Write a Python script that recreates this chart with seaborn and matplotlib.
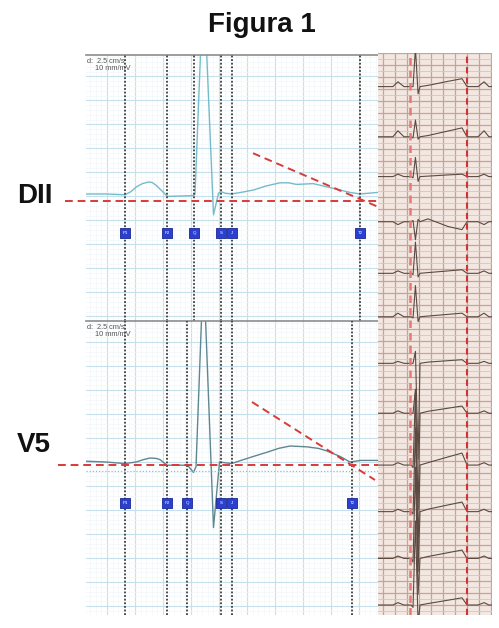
import numpy as np
import pandas as pd
import matplotlib
matplotlib.use("Agg")
import matplotlib.pyplot as plt
import seaborn as sns

sns.set_theme(style="white")
plt.rcParams["font.family"] = ["Liberation Sans", "DejaVu Sans"]

# ---------------- data ----------------
title = "Figura 1"
lead_labels = ["DII", "V5"]
speed_text = "d:  2.5 cm/s\n    10 mm/mV"

# DII enlarged beat (time ms, amplitude mV)
dii_t = [0, 40, 78, 90, 101, 113, 125, 132, 140, 150, 163, 190, 215, 218, 235, 255, 265, 270, 278, 291,
         310, 335, 360, 388, 405, 421, 440, 454, 468, 488, 508, 528, 548, 566, 584]
dii_mv = [0.0, 0.0, -0.01, 0.03, 0.09, 0.13, 0.15, 0.145, 0.11, 0.05, -0.03, -0.025, -0.02, 0.0, 2.7, -0.26, 0.01, 0.03, 0.01, 0.0,
          0.02, 0.05, 0.10, 0.14, 0.14, 0.12, 0.125, 0.13, 0.11, 0.08, 0.05, 0.02, 0.0, 0.01, 0.02]

# V5 enlarged beat
v5_t = [0, 40, 78, 100, 115, 128, 140, 148, 162, 185, 203, 215, 220, 235, 255, 267, 291,
        310, 335, 361, 385, 408, 441, 465, 481, 508, 528, 550, 584]
v5_mv = [0.01, 0.0, -0.02, 0.0, 0.03, 0.05, 0.045, 0.03, -0.04, -0.04, -0.04, -0.13, -0.06, 2.45, -0.82, 0.0, -0.02,
         0.02, 0.07, 0.12, 0.17, 0.20, 0.19, 0.17, 0.14, 0.07, 0.0, 0.02, 0.02]

# caliper markers (ms)
marker_labels = ["P1", "P2", "Q", "S", "J", "T2"]
dii_markers = [78, 162, 216, 270, 292, 548]
v5_markers = [78, 162, 202, 270, 292, 532]
dii_marker_level = -0.49
v5_marker_level = -0.51

# red reference lines
dii_baseline_ref = -0.09
dii_slope_t = [334, 584]
dii_slope_mv = [0.51, -0.16]
v5_baseline_ref = -0.04
v5_slope_t = [332, 578]
v5_slope_mv = [0.75, -0.225]
v5_dotted_ref = -0.11

# 12-lead rhythm strip (mm on paper, 10 mm/mV)
strip_names = ["I", "II", "III", "aVR", "aVL", "aVF", "V1", "V2", "V3", "V4", "V5", "V6"]
strip_offset_mm = [14.0, 34.9, 51.5, 70.3, 91.8, 109.9, 129.3, 150.1, 171.7, 191.1, 210.6, 230.0]
strip_P = [2.0, 2.5, 1.0, -1.2, 1.0, 1.5, 0.8, 1.0, 1.0, 1.0, 1.0, 1.0]
strip_Q = [0.0, -0.5, -0.5, 0.5, -0.5, -0.5, 0.0, 0.0, -1.0, -1.0, -1.5, -1.0]
strip_R = [16.0, 7.0, 8.0, -7.5, 13.0, 13.0, 5.0, 10.0, 30.0, 35.0, 38.0, 35.0]
strip_S = [-3.0, -1.0, -2.0, 1.0, -1.5, -2.0, -40.0, -40.0, -35.0, -25.0, -15.0, -8.0]
strip_ST = [0.5, 0.5, 0.2, 1.2, 0.3, 0.3, 0.5, 0.8, 1.0, 1.0, 0.8, 0.6]
strip_Tmid = [2.2, 2.4, 0.7, -2.0, 1.0, 1.0, 1.1, 2.1, 3.4, 2.8, 2.4, 2.0]
strip_T = [3.3, 3.7, 1.0, -3.3, 1.5, 1.5, 1.5, 3.0, 5.0, 4.0, 3.5, 3.0]
strip_x_mm = [0, 6.2, 8.3, 10.8, 13.8, 14.6, 15.6, 16.7, 17.5, 20.8, 29.2, 35.0, 37.1, 41.7, 44.2, 46.2, 47.5]
cal_lines_mm = [13.3, 37.1]

# ---------------- figure ----------------
W, H = 499, 628
fig = plt.figure(figsize=(W / 100, H / 100), dpi=100)
fig.patch.set_facecolor("white")


def fa(left, top, right, bottom):
    return [left / W, 1 - bottom / H, (right - left) / W, (bottom - top) / H]


ax_top = fig.add_axes(fa(86, 55, 378, 321))
ax_bot = fig.add_axes(fa(86, 321, 378, 615))
ax_rs = fig.add_axes(fa(378, 53, 492, 615))

panels = [
    (ax_top, dii_t, dii_mv, (-1.5875, 1.7375), dii_markers, dii_marker_level, "#74bccb",
     dii_baseline_ref, -42, dii_slope_t, dii_slope_mv, 1.47),
    (ax_bot, v5_t, v5_mv, (-1.9125, 1.7625), v5_markers, v5_marker_level, "#5f8791",
     v5_baseline_ref, -56, v5_slope_t, v5_slope_mv, 1.50),
]

for (ax, t, mv, ylim, mk, mk_lvl, tcol, bref, bstart, st, smv, ygrid0) in panels:
    ax.set_facecolor("white")
    df = pd.DataFrame({"t": t, "mv": mv})
    sns.lineplot(data=df, x="t", y="mv", ax=ax, color=tcol, lw=1.0, sort=False, estimator=None)

    # caliper verticals
    for m in mk:
        ax.axvline(m, color="#3d3d3d", lw=1.3, ls=(0, (1, 1)), zorder=3)
    ax.scatter(mk, [mk_lvl] * len(mk), marker="s", s=58, color="#2b3fd0",
               edgecolor="#1a2790", linewidth=0.6, zorder=5)
    for m, lab in zip(mk, marker_labels):
        ax.text(m, mk_lvl, lab, color="white", fontsize=3.2, ha="center", va="center", zorder=6)

    # red reference lines
    ax.plot([bstart, 584], [bref, bref], color="#d93a3a", lw=1.4, ls=(0, (4, 2.5)),
            clip_on=False, zorder=4)
    ax.plot(st, smv, color="#d93a3a", lw=1.4, ls=(0, (4, 2.5)), clip_on=False, zorder=4)

    ax.text(0.004, 0.99, speed_text, transform=ax.transAxes, ha="left", va="top",
            fontsize=5.3, color="#555555", linespacing=1.0)
    ax.set_xlabel("")
    ax.set_ylabel("")

    # ECG grid and limits (set last so nothing rescales them)
    ax.set_xticks(np.arange(42, 584, 56))
    ax.set_xticks(np.arange(42 - 56, 584, 11.2), minor=True)
    ax.set_yticks(np.arange(ygrid0, ylim[0], -0.3))
    ax.set_yticks(np.arange(ygrid0 + 0.3, ylim[0], -0.06), minor=True)
    ax.grid(True, which="major", color="#c6e0ec", lw=0.8)
    ax.grid(True, which="minor", color="#f1f7fa", lw=0.5)
    ax.tick_params(which="both", length=0, labelbottom=False, labelleft=False)
    for s in ["left", "right", "bottom"]:
        ax.spines[s].set_visible(False)
    ax.spines["top"].set_color("#8c8c8c")
    ax.spines["top"].set_linewidth(1.2)
    ax.set_axisbelow(True)
    ax.set_xlim(0, 584)
    ax.set_ylim(*ylim)

ax_bot.axhline(v5_dotted_ref, color="#7cc6d4", lw=0.9, ls=(0, (1, 1.5)), zorder=2)

# ---------------- rhythm strip ----------------
paper_h = 562 / 2.4
paper_w = 114 / 2.4
ax_rs.set_facecolor("#f3e8e1")

rows = []
for i, name in enumerate(strip_names):
    amps = [0, 0, strip_P[i], 0, 0, strip_Q[i], strip_R[i], strip_S[i], 0,
            strip_ST[i], strip_Tmid[i], strip_T[i], 0, 0, strip_P[i], 0, 0]
    for x, a in zip(strip_x_mm, amps):
        rows.append({"lead": name, "x": x, "y": strip_offset_mm[i] - a})
rs = pd.DataFrame(rows)
sns.lineplot(data=rs, x="x", y="y", units="lead", estimator=None, sort=False,
             color="#5a4a42", lw=0.8, ax=ax_rs)
ax_rs.axvline(cal_lines_mm[0], color="#e27a7a", lw=1.8, ls=(0, (3, 2)), zorder=4)
ax_rs.axvline(cal_lines_mm[1], color="#cc3535", lw=1.5, ls=(0, (3, 2)), zorder=4)
ax_rs.set_xlabel("")
ax_rs.set_ylabel("")
ax_rs.set_xticks(np.arange(2.1, paper_w, 5))
ax_rs.set_yticks(np.arange(0, paper_h, 5))
ax_rs.set_yticks(np.arange(2.5, paper_h, 5), minor=True)
ax_rs.grid(True, which="major", color="#c8a392", lw=0.9)
ax_rs.grid(True, which="minor", axis="y", color="#dcc3b6", lw=0.6)
ax_rs.tick_params(which="both", length=0, labelbottom=False, labelleft=False)
for s in ax_rs.spines.values():
    s.set_visible(False)
ax_rs.set_axisbelow(True)
ax_rs.set_xlim(0, paper_w)
ax_rs.set_ylim(paper_h, 0)

# ---------------- texts ----------------
fig.text(262 / W, 1 - 25 / H, title, ha="center", va="center", fontsize=20, fontweight="bold", color="#111111")
fig.text(17 / W, 1 - 196 / H, lead_labels[0], ha="left", va="center", fontsize=20, fontweight="bold", color="#111111")
fig.text(17 / W, 1 - 445 / H, lead_labels[1], ha="left", va="center", fontsize=20, fontweight="bold", color="#111111")

fig.savefig("out.png", dpi=100)
